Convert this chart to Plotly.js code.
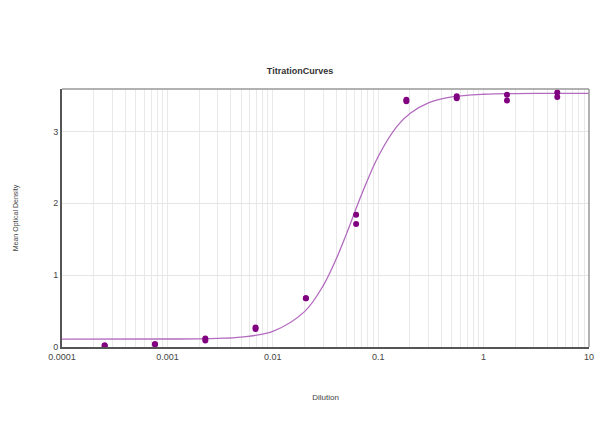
<!DOCTYPE html>
<html>
<head>
<meta charset="utf-8">
<script src="https://cdn.plot.ly/plotly-3.0.1.min.js"></script>
<style>html,body{margin:0;padding:0;background:#fff;}#chart{width:600px;height:447px;}</style>
</head>
<body>
<div id="chart"></div>
<script>
// Measured replicate points
var dilutions = [0.000254, 0.000254, 0.000762, 0.000762, 0.00229, 0.00229, 0.00686, 0.00686, 0.0206, 0.0206, 0.0617, 0.0617, 0.185, 0.185, 0.556, 0.556, 1.667, 1.667, 5, 5];
var odValues  = [0.02, 0.02, 0.04, 0.04, 0.12, 0.09, 0.27, 0.25, 0.68, 0.68, 1.84, 1.71, 3.44, 3.42, 3.49, 3.46, 3.51, 3.43, 3.54, 3.48];

// Fitted curve
var curveX = [0.0001, 0.001, 0.003, 0.005, 0.01, 0.02, 0.03, 0.04, 0.05, 0.07, 0.1, 0.15, 0.2, 0.3, 0.5, 1, 2, 5, 10];
var curveY = [0.11, 0.111, 0.121, 0.138, 0.218, 0.492, 0.851, 1.227, 1.574, 2.131, 2.651, 3.067, 3.25, 3.397, 3.479, 3.517, 3.527, 3.53, 3.53];

var decadeTicks = [0.0001, 0.001, 0.01, 0.1, 1, 10];
var decadeLabels = ["0.0001", "0.001", "0.01", "0.1", "1", "10"];
var yTicks = [0, 1, 2, 3];

var gridVals = [], gridText = [];
for (var i = 0; i < decadeTicks.length; i++) {
  gridVals.push(decadeTicks[i]); gridText.push(decadeLabels[i]);
  if (i < decadeTicks.length - 1) {
    for (var m = 2; m <= 9; m++) { gridVals.push(decadeTicks[i] * m); gridText.push(""); }
  }
}

var traces = [
  {x: curveX, y: curveY, type: 'scatter', mode: 'lines', line: {color: '#b36bbf', width: 1.3, shape: 'spline', smoothing: 1}, hoverinfo: 'skip', showlegend: false},
  {x: dilutions, y: odValues, type: 'scatter', mode: 'markers', marker: {color: '#800080', size: 6}, showlegend: false}
];

var layout = {
  width: 600, height: 447,
  margin: {l: 62, r: 11, t: 89, b: 100},
  paper_bgcolor: '#fff', plot_bgcolor: '#fff',
  font: {family: 'Liberation Sans, Arial, sans-serif', size: 9, color: '#444'},
  title: {text: '<b>TitrationCurves</b>', font: {size: 9, color: '#333'}, x: 0.5, xanchor: 'center', y: 1 - 71/447, yanchor: 'middle'},
  xaxis: {
    type: 'log', range: [-4, 1],
    tickmode: 'array', tickvals: gridVals, ticktext: gridText,
    showgrid: true, gridcolor: '#e9e9e9', gridwidth: 1,
    showline: true, linecolor: '#555', linewidth: 2,
    zeroline: false, ticks: '', ticklen: 0,
    tickfont: {size: 9, color: '#444'},
    title: {text: 'Dilution', font: {size: 8, color: '#444'}, standoff: 34}
  },
  yaxis: {
    range: [0, 3.59],
    tickmode: 'array', tickvals: yTicks, ticktext: yTicks.map(String),
    showgrid: true, gridcolor: '#e6e6e6', gridwidth: 1,
    showline: true, linecolor: '#555', linewidth: 2,
    zeroline: false, ticks: '',
    tickfont: {size: 9, color: '#444'},
    title: {text: 'Mean Optical Density', font: {size: 7, color: '#444'}, standoff: 34}
  },
  shapes: [
    {type: 'line', xref: 'paper', yref: 'paper', x0: 0, x1: 1, y0: 1, y1: 1, line: {color: '#999', width: 1.5}},
    {type: 'line', xref: 'paper', yref: 'paper', x0: 1, x1: 1, y0: 0, y1: 1, line: {color: '#999', width: 1.5}}
  ]
};

Plotly.newPlot('chart', traces, layout, {displayModeBar: false, staticPlot: true});
</script>
</body>
</html>
